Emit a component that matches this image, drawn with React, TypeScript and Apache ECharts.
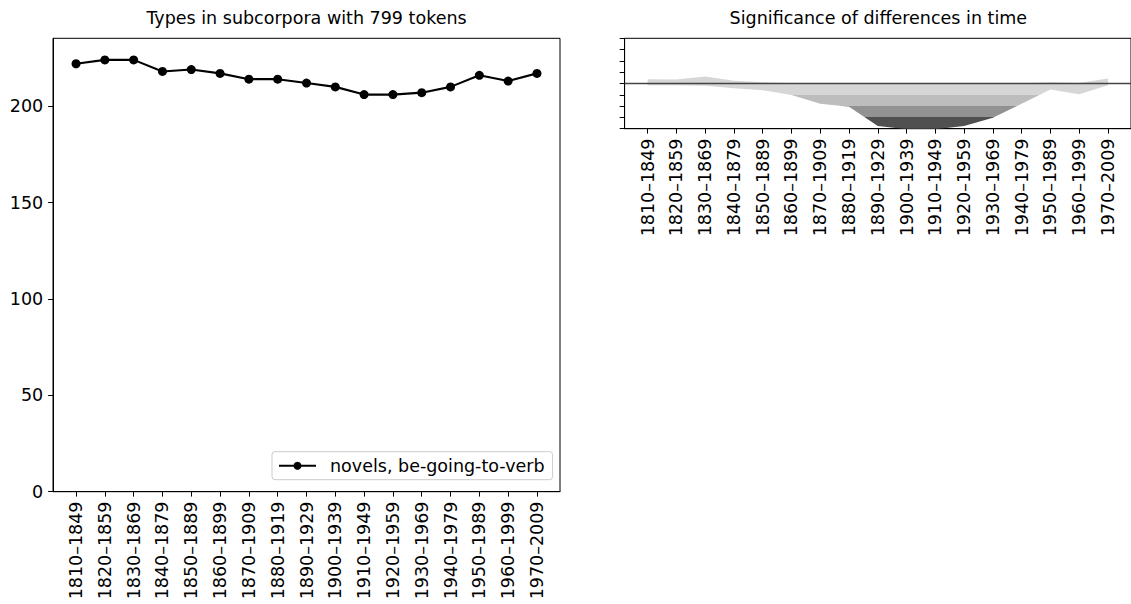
import React, { useEffect, useRef } from "react";
import * as echarts from "echarts";

const periods = [
  "1810–1849", "1820–1859", "1830–1869", "1840–1879", "1850–1889", "1860–1899",
  "1870–1909", "1880–1919", "1890–1929", "1900–1939", "1910–1949", "1920–1959",
  "1930–1969", "1940–1979", "1950–1989", "1960–1999", "1970–2009",
];
const typeCounts = [222, 224, 224, 218, 219, 217, 214, 214, 212, 210, 206, 206, 207, 210, 216, 213, 217];
const upperBound = [0.38, 0.35, 0.62, 0.25, 0.1, 0.03, 0.02, 0.02, 0.02, 0.02, 0.02, 0.02, 0.02, 0.02, 0.1, 0.05, 0.45];
const lowerBound = [-0.15, -0.15, -0.2, -0.42, -0.6, -1.02, -1.8, -2.05, -3.75, -4.05, -4.05, -3.75, -3.04, -1.8, -0.53, -0.95, -0.15];
const leftYTicks = [0, 50, 100, 150, 200];
const sigRange = [-4, 4];
const bandLevels = [-1, -2, -3];
const bandColors = ["#d6d6d6", "#bdbdbd", "#929292", "#505050"];
const seriesName = "novels, be-going-to-verb";
const titles = ["Types in subcorpora with 799 tokens", "Significance of differences in time"];

export default function App() {
  const ref = useRef<HTMLDivElement>(null);
  useEffect(() => {
    document.body.style.margin = "0";
    const chart = echarts.init(ref.current as HTMLDivElement, null, { renderer: "svg" });
    const idx = periods.map((_, i) => i);
    const xMin = -0.8;
    const xMax = periods.length - 1 + 0.8;
    const font = "DejaVu Sans";
    const fs = 17.5;
    const black = "#000";
    const g0 = { left: 53, top: 38.3, width: 507, height: 453.4 };
    const g1 = { left: 624.6, top: 38.3, width: 507.5, height: 90.4 };

    const xAxisBase = (gridIndex: number) => ({
      type: "value",
      gridIndex,
      min: xMin,
      max: xMax,
      axisLine: { show: true, onZero: false, lineStyle: { color: black, width: 1 } },
      axisTick: { show: true, customValues: idx, length: 4.9, lineStyle: { color: black, width: 1 } },
      axisLabel: {
        show: true,
        customValues: idx,
        rotate: 90,
        margin: 9.8,
        color: black,
        fontFamily: font,
        fontSize: fs,
        formatter: (v: number) => periods[Math.round(v)] ?? "",
      },
      splitLine: { show: false },
    });

    const option: any = {
      animation: false,
      backgroundColor: "#fff",
      title: [
        {
          text: titles[0], left: g0.left + g0.width / 2, top: 9, textAlign: "center", padding: 0,
          textStyle: { fontFamily: font, fontSize: fs, fontWeight: "normal", color: black },
        },
        {
          text: titles[1], left: g1.left + g1.width / 2, top: 9, textAlign: "center", padding: 0,
          textStyle: { fontFamily: font, fontSize: fs, fontWeight: "normal", color: black },
        },
      ],
      legend: {
        data: [seriesName],
        left: 272,
        top: 451.7,
        itemWidth: 37,
        itemHeight: 10,
        padding: [5, 8, 5, 6],
        backgroundColor: "rgba(255,255,255,0.8)",
        borderColor: "#cccccc",
        borderWidth: 1,
        borderRadius: 3,
        textStyle: { fontFamily: font, fontSize: fs, color: black, padding: [0, 0, 0, 9] },
      },
      grid: [
        { ...g0, show: true, borderColor: black, borderWidth: 1, backgroundColor: "transparent", containLabel: false },
        { ...g1, show: true, borderColor: black, borderWidth: 1, backgroundColor: "transparent", containLabel: false },
      ],
      xAxis: [xAxisBase(0), xAxisBase(1)],
      yAxis: [
        {
          type: "value",
          gridIndex: 0,
          min: 0,
          max: Math.max(...typeCounts) * 1.05,
          axisLine: { show: true, onZero: false, lineStyle: { color: black, width: 1 } },
          axisTick: { show: true, customValues: leftYTicks, length: 4.9, lineStyle: { color: black, width: 1 } },
          axisLabel: { customValues: leftYTicks, margin: 9.8, color: black, fontFamily: font, fontSize: fs },
          splitLine: { show: false },
        },
        {
          type: "value",
          gridIndex: 1,
          min: sigRange[0],
          max: sigRange[1],
          interval: 1,
          axisLine: { show: true, onZero: false, lineStyle: { color: black, width: 1 } },
          axisTick: { show: true, length: 4.9, lineStyle: { color: black, width: 1 } },
          axisLabel: { show: false },
          splitLine: { show: false },
        },
      ],
      series: [
        {
          type: "line",
          name: seriesName,
          xAxisIndex: 0,
          yAxisIndex: 0,
          data: idx.map((i) => [i, typeCounts[i]]),
          symbol: "circle",
          symbolSize: 9,
          itemStyle: { color: black },
          lineStyle: { color: black, width: 2.1 },
          z: 3,
        },
        {
          type: "custom",
          xAxisIndex: 1,
          yAxisIndex: 1,
          clip: true,
          data: idx.map((i) => [i, upperBound[i], lowerBound[i]]),
          encode: { x: 0, y: [1, 2] },
          renderItem: (params: any, api: any) => {
            if (params.dataIndex !== 0) return null;
            const pts: number[][] = [];
            for (let i = 0; i < idx.length; i++) pts.push(api.coord([i, upperBound[i]]));
            for (let i = idx.length - 1; i >= 0; i--) pts.push(api.coord([i, lowerBound[i]]));
            const yTop = api.coord([0, sigRange[1]])[1];
            const yBot = api.coord([0, sigRange[0]])[1];
            const off = (lv: number) => (api.coord([0, lv])[1] - yTop) / (yBot - yTop);
            const stops: any[] = [{ offset: 0, color: bandColors[0] }];
            bandLevels.forEach((lv, k) => {
              stops.push({ offset: off(lv), color: bandColors[k] });
              stops.push({ offset: off(lv), color: bandColors[k + 1] });
            });
            stops.push({ offset: 1, color: bandColors[bandColors.length - 1] });
            const p0 = api.coord([xMin, 0]);
            const p1 = api.coord([xMax, 0]);
            return {
              type: "group",
              children: [
                {
                  type: "polygon",
                  shape: { points: pts },
                  style: { fill: new echarts.graphic.LinearGradient(0, yTop, 0, yBot, stops, true), stroke: null },
                },
                {
                  type: "line",
                  shape: { x1: p0[0], y1: p0[1], x2: p1[0], y2: p1[1] },
                  style: { stroke: "#444", lineWidth: 1.5 },
                },
              ],
            };
          },
        },
      ],
    };
    chart.setOption(option);
    return () => chart.dispose();
  }, []);
  return <div ref={ref} style={{ width: 1131, height: 604 }} />;
}
